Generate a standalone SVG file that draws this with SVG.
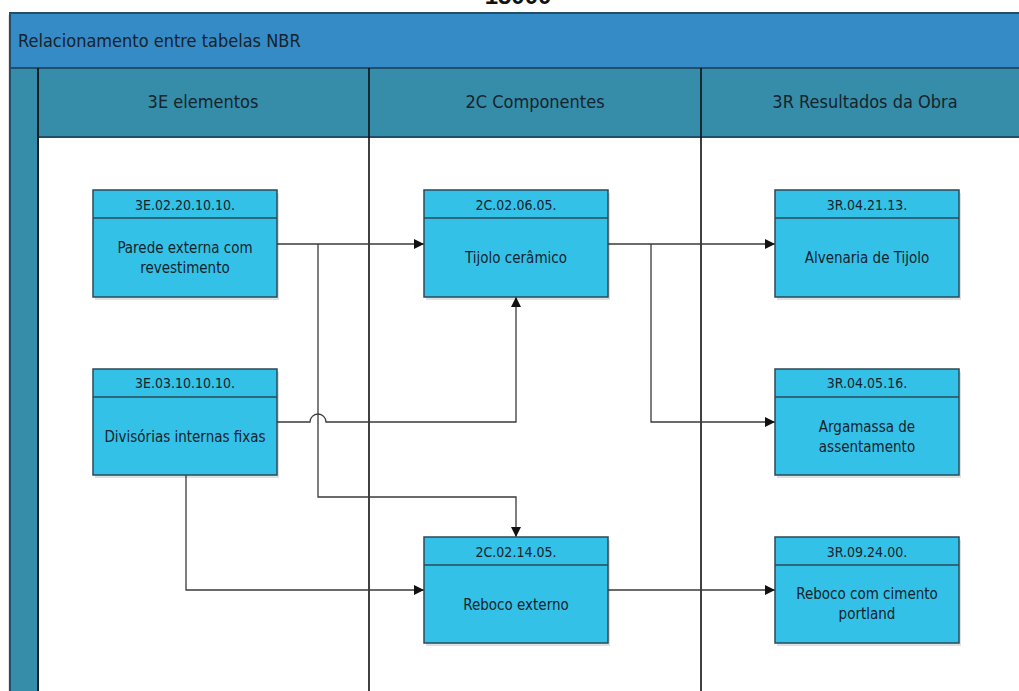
<svg xmlns="http://www.w3.org/2000/svg" width="1019" height="691" viewBox="0 0 1019 691">
  <defs>
    <style>
      .lbl { font-family: "Liberation Sans Narrow", "DejaVu Sans Condensed", "Liberation Sans", sans-serif; fill: #17232b; text-anchor: middle; }
      .title { font-size: 18px; text-anchor: start; }
      .colhead { font-size: 18px; }
      .code { font-size: 14px; }
      .body { font-size: 15px; }
      .node-box { fill: #33c1e8; stroke: #2b4a58; stroke-width: 1.5; }
      .node-shadow { fill: #000; opacity: 0.12; }
      .sep { stroke: #2b4a58; stroke-width: 1.5; }
      .lane { stroke: #111; stroke-width: 1.6; fill: none; }
      .wire { stroke: #3a3a3a; stroke-width: 1.3; fill: none; }
    </style>
    <marker id="arrow" viewBox="0 0 10 10" refX="10" refY="5" markerWidth="10" markerHeight="10" markerUnits="userSpaceOnUse" orient="auto">
      <path d="M0,0 L10,5 L0,10 z" fill="#111"/>
    </marker>
  </defs>

  <rect width="1019" height="691" fill="#ffffff"/>

  <!-- page heading, mostly above the top edge -->
  <text x="518" y="4" font-family="Liberation Sans, sans-serif" font-weight="bold" font-size="24" fill="#111" text-anchor="middle">15000</text>

  <!-- pool frame -->
  <g id="pool">
    <rect x="8" y="15" width="1020" height="680" fill="#000" opacity="0.1"/>
    <rect x="10" y="13" width="1015" height="55" fill="#348bc6" stroke="#214e68" stroke-width="2"/>
    <text class="lbl title" x="18" y="47">Relacionamento entre tabelas NBR</text>
    <rect x="10" y="68" width="28" height="630" fill="#358da9" stroke="#214e68" stroke-width="2"/>
    <rect x="38" y="68" width="985" height="69" fill="#358da9" stroke="#214e68" stroke-width="2"/>
    <rect x="39" y="138" width="985" height="560" fill="#ffffff"/>
    <line class="lane" x1="38" y1="68" x2="38" y2="691"/>
    <line class="lane" x1="369" y1="68" x2="369" y2="691"/>
    <line class="lane" x1="701" y1="68" x2="701" y2="691"/>
    <text class="lbl colhead" x="203" y="108">3E elementos</text>
    <text class="lbl colhead" x="535" y="108">2C Componentes</text>
    <text class="lbl colhead" x="865" y="108">3R Resultados da Obra</text>
  </g>

  <!-- connectors -->
  <g id="connectors">
    <path class="wire" d="M277,244 H424" marker-end="url(#arrow)"/>
    <path class="wire" d="M318,244 V497 H516 V537" marker-end="url(#arrow)"/>
    <path class="wire" d="M277,422 H310 A8,8 0 0 1 326,422 H516 V297" marker-end="url(#arrow)"/>
    <path class="wire" d="M186,475 V590 H424" marker-end="url(#arrow)"/>
    <path class="wire" d="M608,244 H775" marker-end="url(#arrow)"/>
    <path class="wire" d="M651,244 V422 H775" marker-end="url(#arrow)"/>
    <path class="wire" d="M608,590 H775" marker-end="url(#arrow)"/>
  </g>

  <!-- 3E nodes -->
  <g id="n-3E-02-20-10-10">
    <rect class="node-shadow" x="95" y="193" width="184" height="107"/>
    <rect class="node-box" x="93" y="190" width="184" height="107"/>
    <line class="sep" x1="93" y1="218" x2="277" y2="218"/>
    <text class="lbl code" x="185" y="210">3E.02.20.10.10.</text>
    <text class="lbl body" x="185" y="253">Parede externa com</text>
    <text class="lbl body" x="185" y="273">revestimento</text>
  </g>
  <g id="n-3E-03-10-10-10">
    <rect class="node-shadow" x="95" y="372" width="184" height="106"/>
    <rect class="node-box" x="93" y="369" width="184" height="106"/>
    <line class="sep" x1="93" y1="397" x2="277" y2="397"/>
    <text class="lbl code" x="185" y="388">3E.03.10.10.10.</text>
    <text class="lbl body" x="185" y="442">Divisórias internas fixas</text>
  </g>

  <!-- 2C nodes -->
  <g id="n-2C-02-06-05">
    <rect class="node-shadow" x="426" y="193" width="184" height="107"/>
    <rect class="node-box" x="424" y="190" width="184" height="107"/>
    <line class="sep" x1="424" y1="218" x2="608" y2="218"/>
    <text class="lbl code" x="516" y="210">2C.02.06.05.</text>
    <text class="lbl body" x="516" y="263">Tijolo cerâmico</text>
  </g>
  <g id="n-2C-02-14-05">
    <rect class="node-shadow" x="426" y="540" width="184" height="106"/>
    <rect class="node-box" x="424" y="537" width="184" height="106"/>
    <line class="sep" x1="424" y1="565" x2="608" y2="565"/>
    <text class="lbl code" x="516" y="557">2C.02.14.05.</text>
    <text class="lbl body" x="516" y="610">Reboco externo</text>
  </g>

  <!-- 3R nodes -->
  <g id="n-3R-04-21-13">
    <rect class="node-shadow" x="777" y="193" width="184" height="107"/>
    <rect class="node-box" x="775" y="190" width="184" height="107"/>
    <line class="sep" x1="775" y1="218" x2="959" y2="218"/>
    <text class="lbl code" x="867" y="210">3R.04.21.13.</text>
    <text class="lbl body" x="867" y="263">Alvenaria de Tijolo</text>
  </g>
  <g id="n-3R-04-05-16">
    <rect class="node-shadow" x="777" y="372" width="184" height="106"/>
    <rect class="node-box" x="775" y="369" width="184" height="106"/>
    <line class="sep" x1="775" y1="397" x2="959" y2="397"/>
    <text class="lbl code" x="867" y="388">3R.04.05.16.</text>
    <text class="lbl body" x="867" y="432">Argamassa de</text>
    <text class="lbl body" x="867" y="452">assentamento</text>
  </g>
  <g id="n-3R-09-24-00">
    <rect class="node-shadow" x="777" y="540" width="184" height="106"/>
    <rect class="node-box" x="775" y="537" width="184" height="106"/>
    <line class="sep" x1="775" y1="565" x2="959" y2="565"/>
    <text class="lbl code" x="867" y="557">3R.09.24.00.</text>
    <text class="lbl body" x="867" y="599">Reboco com cimento</text>
    <text class="lbl body" x="867" y="619">portland</text>
  </g>
</svg>
